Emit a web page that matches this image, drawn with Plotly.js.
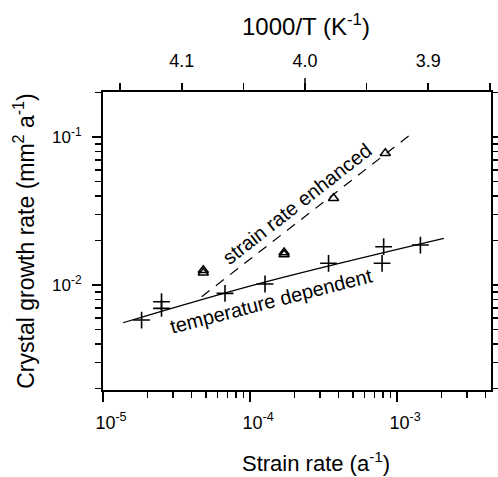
<!DOCTYPE html>
<html>
<head>
<meta charset="utf-8">
<script src="https://cdn.plot.ly/plotly-3.0.1.min.js"></script>
<style>html,body{margin:0;padding:0;background:#fff;}#chart{width:498px;height:477px;}</style>
</head>
<body>
<div id="chart"></div>
<script>
// Temperature-dependent measurements (crosses)
const strainCross = [1.83e-5, 2.50e-5, 2.50e-5, 6.76e-5, 1.265e-4, 3.42e-4, 7.91e-4, 8.11e-4, 1.442e-3];
const growthCross = [0.0058, 0.00771, 0.00696, 0.00879, 0.01016, 0.01402, 0.01402, 0.01815, 0.01862];
// Strain-rate-enhanced measurements (triangles)
const strainTri = [4.81e-5, 4.81e-5, 1.706e-4, 1.706e-4, 3.70e-4, 8.32e-4];
const growthTri = [0.0121, 0.0126, 0.0161, 0.0166, 0.0386, 0.0776];
// Fitted trends
const tempLineX = [1.368e-5, 1.17e-4, 2.08e-3];
const tempLineY = [0.005563, 0.01027, 0.02068];
const strainLineX = [4.69e-5, 1.2e-3];
const strainLineY = [0.00834, 0.1016];
// Axis ticks
const xTickVals = [1e-5, 1e-4, 1e-3];
const xTickText = ["10<sup>-5</sup>", "10<sup>-4</sup>", "10<sup>-3</sup>"];
const yTickVals = [1e-2, 1e-1];
const yTickText = ["10<sup>-2</sup>", "10<sup>-1</sup>"];
const topTickVals = [4.1, 4.0, 3.9];
const topTickText = ["4.1", "4.0", "3.9"];
const topMinorVals = [4.15, 4.05, 3.95, 3.85];

function logMinors(lo, hi) {
  const out = [];
  for (let e = lo; e <= hi; e++) for (let m = 2; m <= 9; m++) out.push(m * Math.pow(10, e));
  return out;
}

const FONT = '"Liberation Sans", Arial, Helvetica, sans-serif';

const traces = [
  {x: tempLineX, y: tempLineY, mode: 'lines', line: {color: '#000', width: 1.3, shape: 'spline'}, hoverinfo: 'skip', showlegend: false},
  {x: strainLineX, y: strainLineY, mode: 'lines', line: {color: '#000', width: 1.2, dash: '10px,8px'}, hoverinfo: 'skip', showlegend: false},
  {x: strainCross, y: growthCross, mode: 'markers', marker: {symbol: 'cross-thin-open', size: 12, color: '#000', line: {color: '#000', width: 1.6}}, showlegend: false},
  {x: strainTri, y: growthTri, mode: 'markers', marker: {symbol: 'triangle-up-open', size: 9, color: '#000', line: {color: '#000', width: 1.5}}, showlegend: false},
  {x: [4.0], y: [0.01], xaxis: 'x2', yaxis: 'y', mode: 'markers', marker: {opacity: 0}, hoverinfo: 'skip', showlegend: false}
];

const layout = {
  width: 498, height: 477,
  margin: {l: 103, r: 7, t: 92, b: 87},
  paper_bgcolor: '#fff', plot_bgcolor: '#fff',
  font: {family: FONT, color: '#000', size: 17},
  showlegend: false,
  xaxis: {
    type: 'log', range: [-5.0, -2.361],
    showline: true, linecolor: '#000', linewidth: 2, mirror: false,
    showgrid: false, zeroline: false,
    tickmode: 'array', tickvals: xTickVals, ticktext: xTickText,
    ticks: 'outside', ticklen: 10, tickwidth: 1.5, tickcolor: '#000',
    ticklabelstandoff: 5, ticklabelshift: 8,
    minor: {tickmode: 'array', tickvals: logMinors(-5, -3), ticks: 'outside', ticklen: 6, tickwidth: 1.5, tickcolor: '#000', showgrid: false},
    tickfont: {size: 18, family: FONT, color: '#000'}
  },
  xaxis2: {
    overlaying: 'x', side: 'top', range: [4.164, 3.849],
    showline: true, linecolor: '#000', linewidth: 2,
    showgrid: false, zeroline: false,
    tickmode: 'array', tickvals: topTickVals, ticktext: topTickText,
    ticks: 'outside', ticklen: 7, tickwidth: 1.5, tickcolor: '#000',
    ticklabelstandoff: 9,
    minor: {tickmode: 'array', tickvals: topMinorVals, ticks: 'outside', ticklen: 7, tickwidth: 1.5, tickcolor: '#000', showgrid: false},
    tickfont: {size: 18, family: FONT, color: '#000'}
  },
  yaxis: {
    type: 'log', range: [-2.709, -0.696],
    showline: true, linecolor: '#000', linewidth: 2, mirror: 'ticks',
    showgrid: false, zeroline: false,
    tickmode: 'array', tickvals: yTickVals, ticktext: yTickText,
    ticks: 'outside', ticklen: 9, tickwidth: 1.5, tickcolor: '#000',
    ticklabelstandoff: 7,
    minor: {tickmode: 'array', tickvals: logMinors(-3, -1), ticks: 'outside', ticklen: 6, tickwidth: 1.5, tickcolor: '#000', showgrid: false},
    tickfont: {size: 17, family: FONT, color: '#000'},
    title: {text: 'Crystal growth rate (mm<sup>2</sup> a<sup>-1</sup>)', font: {size: 23, family: FONT, color: '#000'}, standoff: 11}
  },
  shapes: [
    {type: 'line', xref: 'x2', yref: 'paper', x0: 4.0, x1: 4.0, y0: 1, y1: 1 + 14 / 298, line: {color: '#000', width: 1.5}}
  ],
  annotations: [
    {text: 'Strain rate (a<sup>-1</sup>)', xref: 'paper', yref: 'paper', x: 0.549, y: -0.2416, xanchor: 'center', yanchor: 'middle', showarrow: false, font: {size: 22, family: FONT, color: '#000'}},
    {text: '1000/T (K<sup>-1</sup>)', xref: 'paper', yref: 'paper', x: 0.523, y: 1.2248, xanchor: 'center', yanchor: 'middle', showarrow: false, font: {size: 24, family: FONT, color: '#000'}},
    {text: 'strain rate enhanced', xref: 'x', yref: 'y', x: -3.682, y: -1.4527, xanchor: 'center', yanchor: 'middle', textangle: -38, showarrow: false, font: {size: 20, family: FONT, color: '#000'}},
    {text: 'temperature dependent', xref: 'x', yref: 'y', x: -3.857, y: -2.105, xanchor: 'center', yanchor: 'middle', textangle: -14.5, showarrow: false, font: {size: 20, family: FONT, color: '#000'}}
  ]
};

Plotly.newPlot('chart', traces, layout, {staticPlot: true, displayModeBar: false});
</script>
</body>
</html>
